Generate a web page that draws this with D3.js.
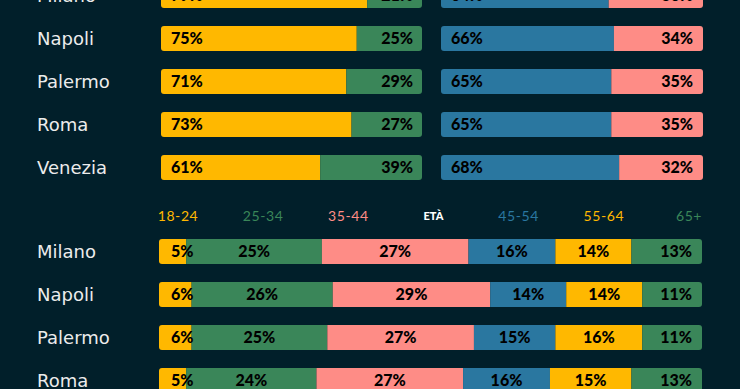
<!DOCTYPE html>
<html>
<head>
<meta charset="utf-8">
<script src="https://cdn.jsdelivr.net/npm/d3@7"></script>
<style>
  html, body { margin: 0; padding: 0; background: #011f2a; }
  svg { display: block; }
</style>
</head>
<body>
<div id="chart"></div>
<script>
// dati
let citta = ["Milano", "Napoli", "Palermo", "Roma", "Venezia"];
let gruppoA = [79, 75, 71, 73, 61];   // giallo
let gruppoB = [21, 25, 29, 27, 39];   // verde
let gruppoC = [64, 66, 65, 65, 68];   // blu
let gruppoD = [36, 34, 35, 35, 32];   // rosa

let cittaEta = ["Milano", "Napoli", "Palermo", "Roma"];
let fasceEta = ["18-24", "25-34", "35-44", "45-54", "55-64", "65+"];
let valoriEta = [
  [5, 25, 27, 16, 14, 13],
  [6, 26, 29, 14, 14, 11],
  [6, 25, 27, 15, 16, 11],
  [5, 24, 27, 16, 15, 13]
];
let intestazioni = ["18-24", "25-34", "35-44", "ETÀ", "45-54", "55-64", "65+"];

let width = 740, height = 389;
let col = { yellow: "#ffb800", green: "#3a8659", blue: "#2a77a0", pink: "#fe8c86" };
let coloriEta = [col.yellow, col.green, col.pink, col.blue, col.yellow, col.green];
let coloriHead = [col.yellow, col.green, col.pink, "#ffffff", col.blue, col.yellow, col.green];

let svg = d3.select("#chart").append("svg")
  .attr("width", width)
  .attr("height", height);

let defs = svg.append("defs");
let labelFont = "Lato, 'DejaVu Sans', sans-serif";
let cityFont = "'DejaVu Sans', sans-serif";

// scale
let yTop = d3.scaleBand().domain(citta).range([-26, 189]).paddingInner(18 / 43).paddingOuter(9 / 43);
let yBot = d3.scaleBand().domain(cittaEta).range([230, 402]).paddingInner(18 / 43).paddingOuter(9 / 43);
let xL = d3.scaleLinear().domain([0, 100]).range([161, 422]);
let xR = d3.scaleLinear().domain([0, 100]).range([441, 703]);
let xE = d3.scaleLinear().domain([0, 100]).range([159, 702]);
let xHead = d3.scalePoint().domain(intestazioni).range([178, 689]);

let clipId = 0;
// barra impilata con angoli arrotondati
function stackBar(g, x, y, h, values, colors, padL, padR) {
  let id = "clip" + (clipId++);
  defs.append("clipPath").attr("id", id)
    .append("rect")
    .attr("x", x(0)).attr("y", y)
    .attr("width", x(100) - x(0)).attr("height", h)
    .attr("rx", 3);
  let bar = g.append("g").attr("clip-path", "url(#" + id + ")");
  let acc = 0;
  let segs = values.map(function(v, i) {
    let s = { v: v, x0: acc, x1: acc + v, c: colors[i], i: i };
    acc += v;
    return s;
  });
  bar.selectAll("rect").data(segs).enter().append("rect")
    .attr("x", d => x(d.x0))
    .attr("y", y)
    .attr("width", d => x(d.x1) - x(d.x0))
    .attr("height", h)
    .attr("fill", d => d.c);
  g.selectAll(null).data(segs).enter().append("text")
    .attr("x", function(d) {
      if (d.i === 0) return x(0) + padL;
      if (d.i === segs.length - 1) return x(100) - padR;
      return (x(d.x0) + x(d.x1)) / 2;
    })
    .attr("y", y + h / 2)
    .attr("dy", "0.36em")
    .attr("text-anchor", function(d) {
      if (d.i === 0) return "start";
      if (d.i === segs.length - 1) return "end";
      return "middle";
    })
    .attr("font-family", labelFont)
    .attr("font-weight", 900)
    .attr("font-size", 16)
    .attr("fill", "#000")
    .text(d => d.v + "%");
}

// parte alta
citta.forEach(function(c, i) {
  let g = svg.append("g");
  let y = yTop(c), h = yTop.bandwidth();
  g.append("text")
    .attr("x", 37).attr("y", y + h / 2).attr("dy", "0.36em")
    .attr("font-family", cityFont).attr("font-size", 18)
    .attr("fill", "#ececec")
    .text(c);
  stackBar(g, xL, y, h, [gruppoA[i], gruppoB[i]], [col.yellow, col.green], 10, 9);
  stackBar(g, xR, y, h, [gruppoC[i], gruppoD[i]], [col.blue, col.pink], 10, 10);
});

// intestazioni età
svg.selectAll(".head").data(intestazioni).enter().append("text")
  .attr("class", "head")
  .attr("x", d => xHead(d))
  .attr("y", 216).attr("dy", "0.36em")
  .attr("text-anchor", "middle")
  .attr("font-family", labelFont)
  .attr("font-size", d => d === "ETÀ" ? 11 : 14)
  .attr("font-weight", d => d === "ETÀ" ? 900 : 400)
  .attr("letter-spacing", d => d === "ETÀ" ? 0 : 0.6)
  .attr("fill", (d, i) => coloriHead[i])
  .text(d => d);

// parte bassa
cittaEta.forEach(function(c, i) {
  let g = svg.append("g");
  let y = yBot(c), h = yBot.bandwidth();
  g.append("text")
    .attr("x", 37).attr("y", y + h / 2).attr("dy", "0.36em")
    .attr("font-family", cityFont).attr("font-size", 18)
    .attr("fill", "#ececec")
    .text(c);
  stackBar(g, xE, y, h, valoriEta[i], coloriEta, 12, 10);
});
</script>
</body>
</html>
